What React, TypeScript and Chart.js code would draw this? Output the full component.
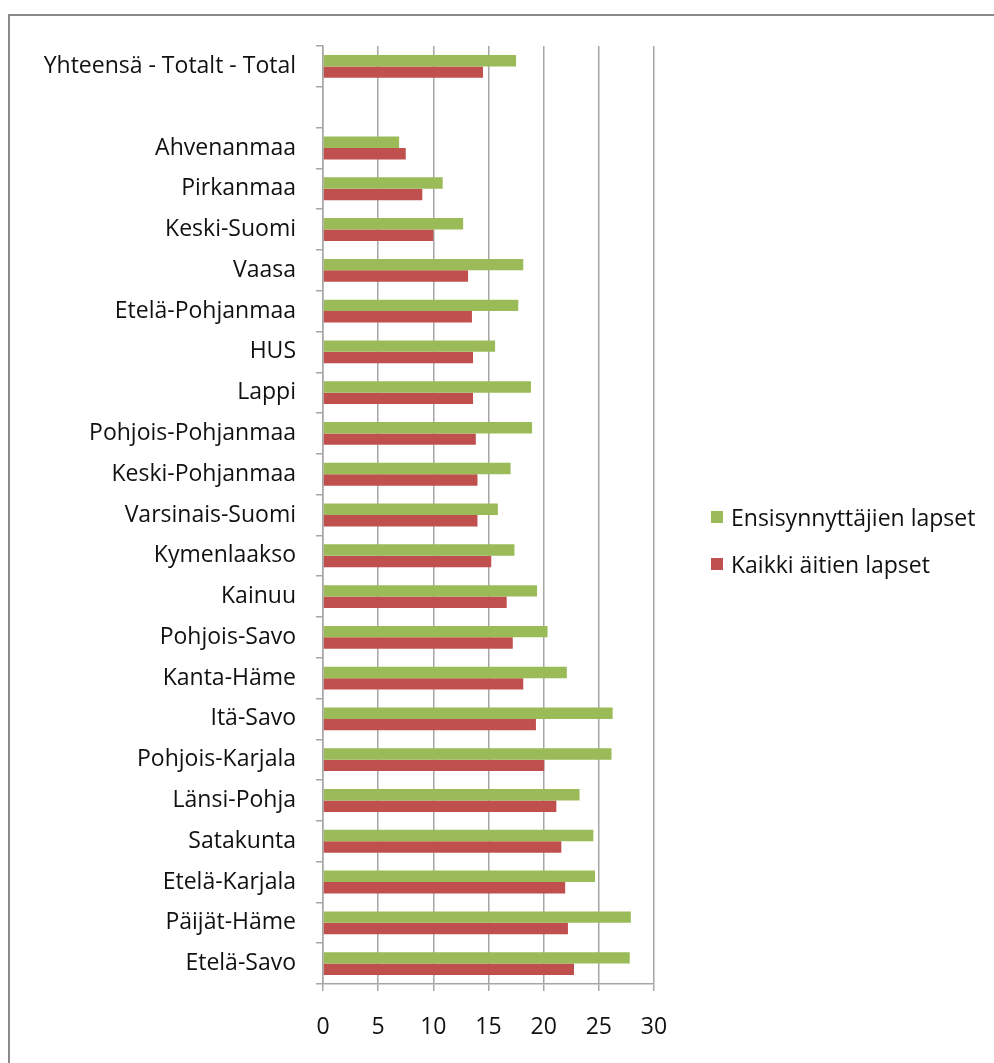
import React, { useEffect, useRef } from "react";
import { Chart, registerables } from "chart.js";

Chart.register(...registerables);

const categories: string[] = [
  "Yhteensä - Totalt - Total",
  "",
  "Ahvenanmaa",
  "Pirkanmaa",
  "Keski-Suomi",
  "Vaasa",
  "Etelä-Pohjanmaa",
  "HUS",
  "Lappi",
  "Pohjois-Pohjanmaa",
  "Keski-Pohjanmaa",
  "Varsinais-Suomi",
  "Kymenlaakso",
  "Kainuu",
  "Pohjois-Savo",
  "Kanta-Häme",
  "Itä-Savo",
  "Pohjois-Karjala",
  "Länsi-Pohja",
  "Satakunta",
  "Etelä-Karjala",
  "Päijät-Häme",
  "Etelä-Savo",
];

const ensisynnyttajat: (number | null)[] = [
  17.5, null, 6.9, 10.85, 12.7, 18.15, 17.7, 15.6, 18.85, 18.95, 17.0, 15.85,
  17.35, 19.4, 20.35, 22.1, 26.25, 26.15, 23.25, 24.5, 24.65, 27.9, 27.8,
];

const kaikki: (number | null)[] = [
  14.5, null, 7.5, 9.0, 10.0, 13.15, 13.5, 13.6, 13.6, 13.85, 14.0, 14.0,
  15.25, 16.65, 17.2, 18.15, 19.3, 20.05, 21.15, 21.6, 21.95, 22.2, 22.75,
];

const seriesLabels = ["Ensisynnyttäjien lapset", "Kaikki äitien lapset"];
const seriesColors = ["#9BBB59", "#C0504D"];
const xTicks = { min: 0, max: 30, step: 5 };

const FONT = "'Open Sans', Lato, sans-serif";
const TEXT = "#111111";
const GRID = "#a6a6a6";

const framePlugin = {
  id: "frame",
  beforeDraw(chart: any) {
    const ctx = chart.ctx;
    ctx.save();
    ctx.fillStyle = "#ffffff";
    ctx.fillRect(0, 0, chart.width, chart.height);
    ctx.strokeStyle = "#8a8a8a";
    ctx.lineWidth = 2;
    ctx.beginPath();
    ctx.moveTo(9, chart.height);
    ctx.lineTo(9, 15);
    ctx.lineTo(chart.width, 15);
    ctx.stroke();
    ctx.restore();
  },
};

const legendPlugin = {
  id: "customLegend",
  afterDraw(chart: any) {
    const ctx = chart.ctx;
    ctx.save();
    ctx.font = `23px ${FONT}`;
    ctx.textBaseline = "alphabetic";
    ctx.textAlign = "left";
    const items = chart.data.datasets;
    const baseY = [526, 573];
    items.forEach((ds: any, i: number) => {
      const y = baseY[i];
      ctx.fillStyle = ds.backgroundColor;
      ctx.fillRect(711, y - 15, 12, 12);
      ctx.fillStyle = TEXT;
      ctx.fillText(ds.label, 731, y);
    });
    ctx.restore();
  },
};

export default function App() {
  const ref = useRef<HTMLCanvasElement | null>(null);

  useEffect(() => {
    if (!ref.current) return;
    const chart = new Chart(ref.current, {
      type: "bar",
      data: {
        labels: categories,
        datasets: [
          {
            label: seriesLabels[0],
            data: ensisynnyttajat,
            backgroundColor: seriesColors[0],
            categoryPercentage: 0.56,
            barPercentage: 1.0,
          },
          {
            label: seriesLabels[1],
            data: kaikki,
            backgroundColor: seriesColors[1],
            categoryPercentage: 0.56,
            barPercentage: 1.0,
          },
        ],
      },
      options: {
        indexAxis: "y",
        animation: false,
        responsive: false,
        maintainAspectRatio: false,
        layout: {
          padding: { left: 0, top: 46, right: 994 - 654, bottom: 19 },
        },
        plugins: {
          legend: { display: false },
          tooltip: { enabled: false },
        },
        scales: {
          x: {
            type: "linear",
            min: xTicks.min,
            max: xTicks.max,
            ticks: {
              stepSize: xTicks.step,
              color: TEXT,
              font: { family: FONT, size: 23 },
              padding: 23,
            },
            grid: {
              color: GRID,
              lineWidth: 1.5,
              drawTicks: true,
              tickLength: 7,
            },
            border: { display: true, color: GRID, width: 1.5 },
            afterFit(scale: any) {
              scale.height = 60;
            },
          },
          y: {
            type: "category",
            ticks: {
              color: TEXT,
              font: { family: FONT, size: 23 },
              padding: 20,
              autoSkip: false,
            },
            grid: {
              offset: true,
              drawOnChartArea: false,
              drawTicks: true,
              tickLength: 7,
              color: GRID,
              lineWidth: 1.5,
            },
            border: { display: true, color: GRID, width: 1.5 },
            afterFit(scale: any) {
              scale.width = 323;
            },
          },
        },
      },
      plugins: [framePlugin, legendPlugin],
    });
    return () => chart.destroy();
  }, []);

  return (
    <div style={{ position: "fixed", left: 0, top: 0, width: 994, height: 1063, background: "#fff" }}>
      <canvas ref={ref} width={994} height={1063} style={{ width: 994, height: 1063, display: "block" }} />
    </div>
  );
}
